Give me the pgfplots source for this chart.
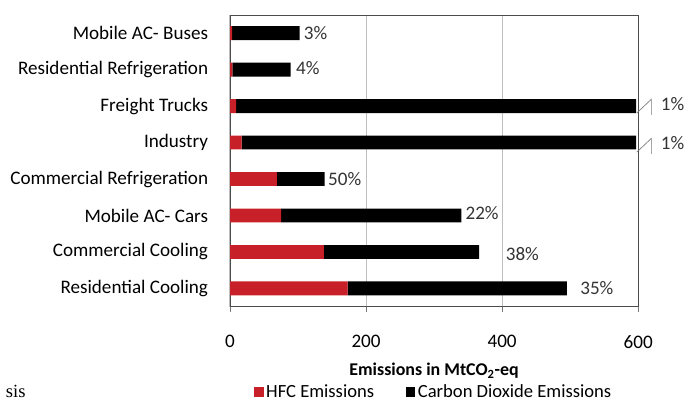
\documentclass[border=0pt]{standalone}
\usepackage{pgfplots}
\pgfplotsset{compat=1.18}
\usepackage{pgfplotstable}
\usepackage{fontspec}
\setmainfont{Carlito}
\newfontfamily\seriffont{Liberation Serif}

\definecolor{hfcred}{RGB}{200,32,40}
\definecolor{axgray}{RGB}{120,120,120}
\definecolor{gridgray}{RGB}{190,190,190}

% pos 0 = bottom row; dx/dy shift the percentage labels (pt)
\pgfplotstableread[col sep=comma]{
pos,hfc,co2,lbl,dx,dy
0,173,322,35\%,9,0
1,138,228,38\%,19,-1.5
2,75,265,22\%,2,1.5
3,69,70,50\%,1.5,0
4,17,580,\usebox\brkbox 1\%,-1,-2
5,9,588,\usebox\brkbox 1\%,-1,0
6,3.5,85.5,4\%,3,1.5
7,3,99.5,3\%,2,0
}\datatable

\newsavebox\brkbox

\begin{document}
\sbox\brkbox{\tikz[baseline=0pt]{\draw[axgray,line width=0.5pt] (0,-2.2pt)--(11pt,8.2pt)--(11pt,-3.5pt);}\hspace{7pt}}
\begin{tikzpicture}
\begin{axis}[
    name=ax,
    xbar stacked,
    scale only axis,
    width=307.5pt,
    height=219.75pt,
    xmin=0, xmax=600,
    ymin=-0.5, ymax=7.5,
    bar width=0.38,
    clip=false,
    font=\fontsize{14.4}{16}\selectfont,
    /pgf/number format/assume math mode=true,
    xtick={0,200,400,600},
    xmajorgrids,
    grid style={gridgray,line width=0.8pt},
    ytick={0,...,7},
    yticklabels={Residential Cooling,Commercial Cooling,Mobile AC- Cars,Commercial Refrigeration,Industry,Freight Trucks,Residential Refrigeration,Mobile AC- Buses},
    ytick style={draw=none},
    minor ytick={-0.5,0.5,...,7.5},
    minor tick length=4pt,
    major tick length=4pt,
    tick align=outside,
    xtick pos=bottom, ytick pos=left,
    tick style={axgray},
    axis line style={black!70},
    yticklabel style={xshift=-9pt},
    xticklabel style={yshift=-14pt},
    xlabel={\textbf{Emissions in MtCO\textsubscript{2}-eq}},
    xlabel style={yshift=-4pt, font=\fontsize{13.5}{15}\selectfont},
    legend style={at={(0.5,-0.328)}, anchor=south, draw=none, legend columns=2,
        inner sep=0pt,
        /tikz/every even column/.append style={column sep=22pt},
        font=\fontsize{14}{16}\selectfont},
    legend image code/.code={\fill[#1] (0pt,-3.5pt) rectangle (7pt,3.5pt);},
]
\addplot[fill=hfcred, draw=none] table[x=hfc, y=pos] {\datatable};
\addlegendentry{HFC Emissions}
% stacked labels sit at the middle of the segment: shift them by half its length
\addplot[fill=black, draw=none,
    nodes near coords,
    point meta=explicit symbolic,
    visualization depends on={\thisrow{co2}*0.25625+\thisrow{dx} \as \dx},
    visualization depends on={\thisrow{dy} \as \dy},
    nodes near coords style={anchor=west, inner sep=1pt, text=black!80,
        xshift=\dx, yshift=\dy}]
    table[x=co2, y=pos, meta=lbl] {\datatable};
\addlegendentry{Carbon Dioxide Emissions}
\end{axis}
\node[anchor=south west, inner sep=0pt, font=\seriffont\fontsize{14}{16}\selectfont] at ([xshift=-169pt,yshift=-69pt]ax.south west) {sis};
\pgfresetboundingbox
\path[use as bounding box] ([xshift=-171pt,yshift=-71.25pt]ax.south west) rectangle ([xshift=343.5pt,yshift=11.25pt]ax.south west |- ax.north west);
\end{tikzpicture}
\end{document}
